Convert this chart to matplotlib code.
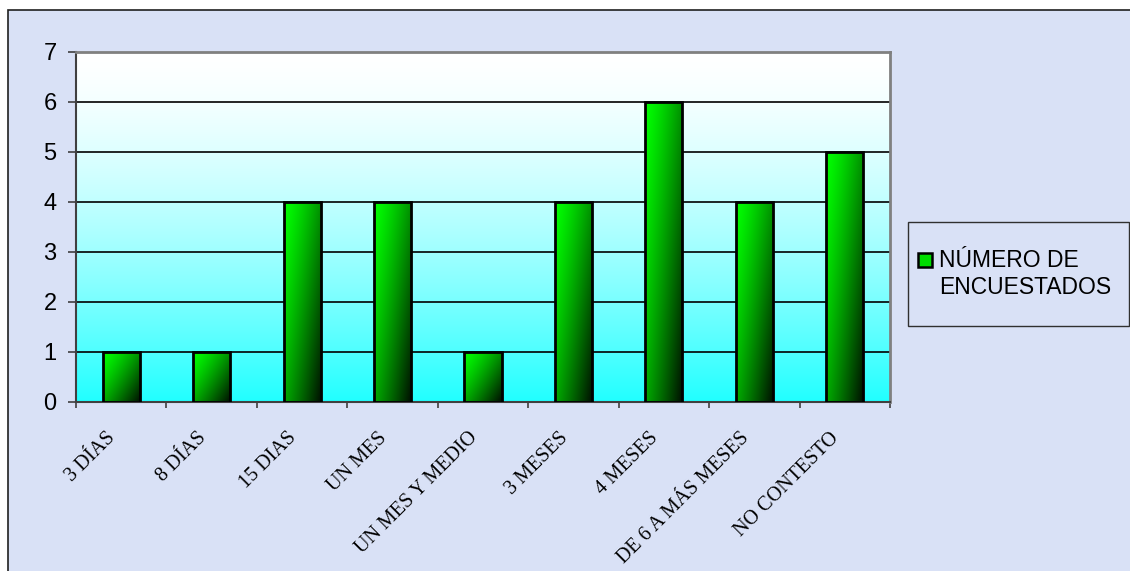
import numpy as np
import matplotlib
matplotlib.use("Agg")
import matplotlib.pyplot as plt
from matplotlib.patches import Rectangle
from matplotlib.transforms import ScaledTranslation

categories = ["3 DÍAS", "8 DÍAS", "15 DIAS", "UN MES", "UN MES Y MEDIO",
              "3 MESES", "4 MESES", "DE 6 A MÁS MESES", "NO CONTESTO"]
values = [1, 1, 4, 4, 1, 4, 6, 4, 5]
series_name = "NÚMERO DE\nENCUESTADOS"
y_ticks = [0, 1, 2, 3, 4, 5, 6, 7]

W, H = 1130, 571
fig = plt.figure(figsize=(W / 100, H / 100), dpi=100, facecolor="white")

# textured-looking outer panel (flat approximation)
fig.patches.append(Rectangle((8 / W, -0.01), 1.0, 1 - 10 / H + 0.01,
                             transform=fig.transFigure, facecolor="#d9e1f6",
                             edgecolor="#202020", linewidth=1.2, zorder=-5))

left, right, top, bottom = 76, 890, 52, 402
ax = fig.add_axes([left / W, 1 - bottom / H, (right - left) / W, (bottom - top) / H])
ax.set_facecolor("none")

x = np.arange(len(categories))
ymax = y_ticks[-1]

# plot area gradient: white at top -> cyan at bottom
s = np.linspace(0, 1, 256)[:, None]
bg = np.ones((256, 1, 3))
bg[..., 0] = 1 - 0.87 * s ** 1.5
ax.imshow(bg, extent=[-0.5, len(categories) - 0.5, 0, ymax], aspect="auto",
          origin="upper", zorder=0, interpolation="bilinear")

for yv in y_ticks[1:-1]:
    ax.axhline(yv, color="black", linewidth=1.2, zorder=1)

bars = ax.bar(x, values, width=0.41, facecolor="none", edgecolor="black",
              linewidth=2, zorder=3)

# per-bar diagonal gradient: bright green top-left -> near black bottom-right
for b in bars:
    x0, w, h = b.get_x(), b.get_width(), b.get_height()
    ny, nx = 120, 60
    t = np.linspace(0, 1, nx)[None, :]
    v = np.linspace(0, 1, ny)[:, None]
    g = 1 - 0.95 * ((0.55 * t + 0.45 * v)) ** 1.3
    img = np.zeros((ny, nx, 3))
    img[..., 1] = np.clip(g, 0, 1)
    ax.imshow(img, extent=[x0, x0 + w, 0, h], aspect="auto", origin="upper",
              zorder=2, interpolation="bilinear")

ax.set_xlim(-0.5, len(categories) - 0.5)
ax.set_ylim(0, ymax)

# ticks at category boundaries, labels at centers
ax.set_xticks(np.arange(-0.5, len(categories), 1.0))
ax.set_xticklabels([])
ax.set_xticks(x, minor=True)
ax.set_xticklabels(categories, minor=True, rotation=45, ha="right", va="top",
                   rotation_mode="anchor", family="Liberation Serif", fontsize=14.5)
ax.tick_params(axis="x", which="minor", length=0, pad=19)
ax.tick_params(axis="x", which="major", length=4.5, width=1.2, color="#404040")
shift = ScaledTranslation(-15 / 100, 0, fig.dpi_scale_trans)
for lab in ax.get_xticklabels(minor=True):
    lab.set_transform(lab.get_transform() + shift)

ax.set_yticks(y_ticks)
ax.set_yticklabels([str(v) for v in y_ticks], family="Liberation Sans", fontsize=17)
ax.tick_params(axis="y", length=6, width=1.2, color="#404040", pad=8)

for side in ["left", "bottom"]:
    ax.spines[side].set_color("#404040")
    ax.spines[side].set_linewidth(1.5)
for side in ["top", "right"]:
    ax.spines[side].set_color("#808080")
    ax.spines[side].set_linewidth(2)

# legend box, drawn by hand to match the original layout
fig.patches.append(Rectangle((908 / W, 1 - 326 / H), 221 / W, 104 / H,
                             transform=fig.transFigure, facecolor="none",
                             edgecolor="#303030", linewidth=1.0, zorder=2))
fig.patches.append(Rectangle((918 / W, 1 - 267 / H), 14 / W, 14 / H,
                             transform=fig.transFigure, facecolor="#00dd00",
                             edgecolor="black", linewidth=1.8, zorder=3))
fig.text(939 / W, 1 - 249 / H, series_name, ha="left", va="top",
         family="Liberation Sans", fontsize=16.5, linespacing=1.2)

fig.savefig("out.png", dpi=100, facecolor="white")
